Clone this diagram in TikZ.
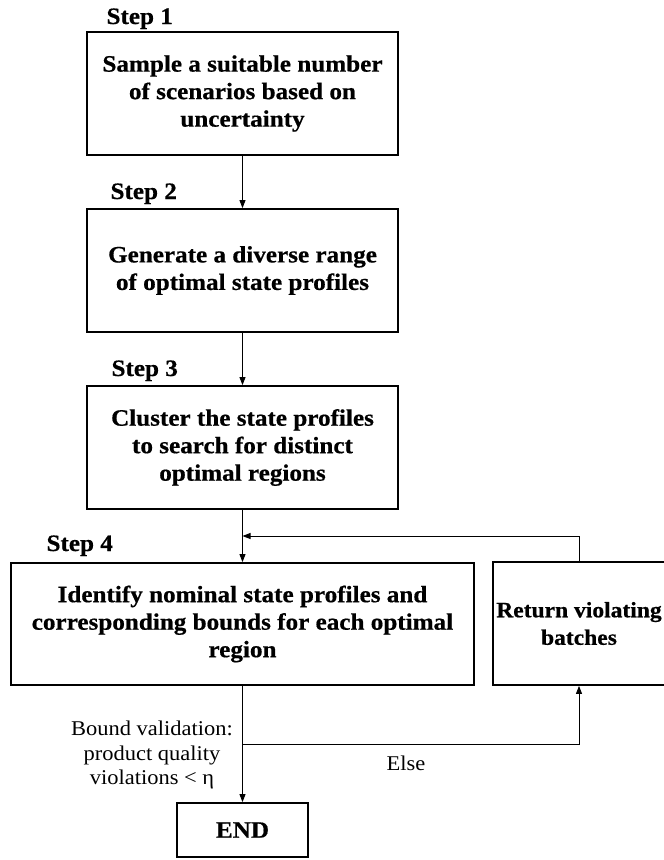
\documentclass[tikz,border=0pt]{standalone}
\usepackage{fontspec}
\setmainfont{Liberation Serif}[FakeStretch=1.07, BoldFeatures={FakeBold=0.6}]
\usetikzlibrary{arrows.meta}
\begin{document}
\begin{tikzpicture}[x=1pt, y=-1pt,
    box/.style={draw, line width=1.8pt, align=center, inner sep=0pt,
        font=\fontsize{23.5}{27.5}\selectfont\bfseries},
    steplabel/.style={anchor=base west, font=\fontsize{23.5}{27.5}\selectfont\bfseries},
    note/.style={align=center, font=\fontsize{21}{24.5}\selectfont},
    conn/.style={line width=0.9pt, -{Triangle[length=8pt,width=6pt]}}]

    \useasboundingbox (0,0) rectangle (664,860);

    \node (s1) [box, minimum width=311pt, minimum height=123pt] at (242.5, 93.5)
        {Sample a suitable number\\of scenarios based on\\uncertainty};
    \node (s2) [box, minimum width=311pt, minimum height=123pt] at (242.5, 270.5)
        {Generate a diverse range\\of optimal state profiles};
    \node (s3) [box, minimum width=311pt, minimum height=123pt] at (242.5, 447.5)
        {Cluster the state profiles\\to search for distinct\\optimal regions};
    \node (s4) [box, minimum width=463pt, minimum height=122pt] at (242.5, 624)
        {Identify nominal state profiles and\\corresponding bounds for each optimal\\region};
    \node (ret) [box, minimum width=172pt, minimum height=123pt,
        font=\fontsize{22}{27.5}\selectfont\bfseries] at (579, 623.5)
        {Return violating\\batches};
    \node (fin) [box, minimum width=131pt, minimum height=54pt] at (242.5, 830) {END};

    \node (l1) [steplabel] at (103, 24) {Step 1};
    \node (l2) [steplabel] at (107, 199) {Step 2};
    \node (l3) [steplabel] at (108, 376) {Step 3};
    \node (l4) [steplabel] at (43, 551) {Step 4};

    \coordinate (fb) at (242.5, 536);
    \coordinate (split) at (242.5, 744);

    \draw[conn] (s1) -- (s2);
    \draw[conn] (s2) -- (s3);
    \draw[conn] (s3) -- (s4);
    \draw[conn] (s4) -- (fin);
    \draw[conn] (ret.north) |- (fb);
    \draw[conn] (split) -| (ret.south);

    \node (cond) [note] at (152, 755) {Bound validation:\\product quality\\violations < η};
    \node (els) [note] at (406, 763) {Else};
\end{tikzpicture}
\end{document}
